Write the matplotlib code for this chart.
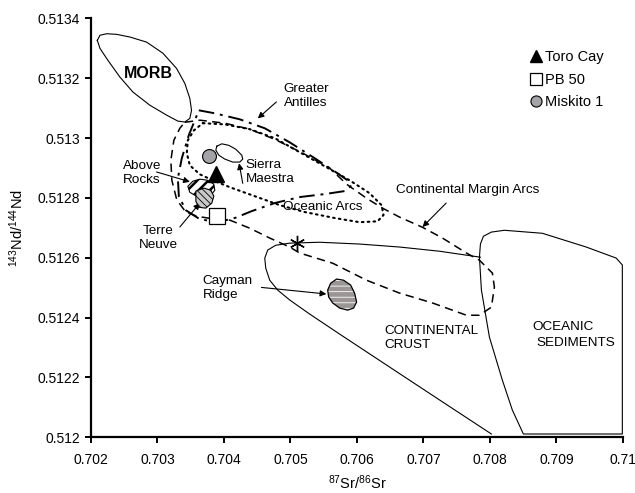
import matplotlib
matplotlib.use("Agg")
import matplotlib.pyplot as plt
from matplotlib.patches import Polygon
from matplotlib.lines import Line2D

plt.rcParams['font.family'] = ['Liberation Sans', 'DejaVu Sans']
plt.rcParams['mathtext.default'] = 'regular'

# ---------------- data (87Sr/86Sr, 143Nd/144Nd) ----------------
morb_sr = [0.702095, 0.702135, 0.702236, 0.702386, 0.702586, 0.702836, 0.703081, 0.703287,
           0.703411, 0.703486, 0.703512, 0.703486, 0.703411, 0.703306, 0.703137, 0.702886,
           0.702631, 0.702435, 0.702255, 0.702135]
morb_nd = [0.513327, 0.513344, 0.513349, 0.513347, 0.513338, 0.513321, 0.513284, 0.513233,
           0.513183, 0.513133, 0.513093, 0.513066, 0.513054, 0.513057, 0.513077, 0.51311,
           0.513154, 0.513204, 0.51326, 0.5133]

ga_sr = [0.703622, 0.703862, 0.704237, 0.704613, 0.704988, 0.705363, 0.705664, 0.705859,
         0.705904, 0.705814, 0.705514, 0.705138, 0.704763, 0.704417, 0.704162, 0.703907,
         0.703637, 0.703426, 0.703321, 0.703306, 0.703366, 0.703471]
ga_nd = [0.513093, 0.513083, 0.513063, 0.513033, 0.512986, 0.512933, 0.512889, 0.512859,
         0.512839, 0.512823, 0.512813, 0.512803, 0.512783, 0.512756, 0.512733, 0.512719,
         0.512729, 0.512759, 0.512806, 0.512866, 0.512933, 0.51301]

cma_sr = [0.703411, 0.703637, 0.704012, 0.704387, 0.704763, 0.705183, 0.705589, 0.705844,
          0.706144, 0.706384, 0.70664, 0.706985, 0.707285, 0.707646, 0.707841, 0.708036,
          0.708066, 0.708021, 0.707841, 0.707646, 0.707135, 0.70664, 0.706144, 0.705634,
          0.705138, 0.704988, 0.704688, 0.704387, 0.704087, 0.703862, 0.703592, 0.703426,
          0.703291, 0.703216, 0.703201, 0.703246, 0.703336]
cma_nd = [0.513053, 0.51306, 0.51305, 0.51303, 0.512996, 0.51295, 0.5129, 0.512846,
          0.512799, 0.512766, 0.512736, 0.512702, 0.512666, 0.512616, 0.512592, 0.512549,
          0.512502, 0.512435, 0.512408, 0.512408, 0.512449, 0.512482, 0.512525, 0.512582,
          0.512616, 0.512636, 0.512666, 0.512699, 0.512726, 0.512729, 0.512739, 0.512753,
          0.512793, 0.512859, 0.512926, 0.512993, 0.513033]

oa_sr = [0.703682, 0.704012, 0.704387, 0.704763, 0.705138, 0.705514, 0.705889, 0.706189,
         0.706369, 0.706399, 0.706309, 0.706039, 0.705664, 0.705213, 0.704838, 0.704462,
         0.704087, 0.703832, 0.703637, 0.703486, 0.703441, 0.703456, 0.703547]
oa_nd = [0.51305, 0.513046, 0.51303, 0.513, 0.512953, 0.512906, 0.512859, 0.512816,
         0.512776, 0.512743, 0.512722, 0.512719, 0.512733, 0.512753, 0.512776, 0.512806,
         0.512836, 0.512859, 0.512879, 0.512909, 0.51295, 0.512993, 0.513026]

sm_sr = [0.703892, 0.703967, 0.704072, 0.704177, 0.704267, 0.704282, 0.704237, 0.704132,
         0.704012, 0.703922, 0.703877]
sm_nd = [0.512973, 0.512981, 0.512976, 0.512963, 0.512943, 0.51293, 0.51292, 0.51292,
         0.51293, 0.512943, 0.51296]

ar_sr = [0.703456, 0.703532, 0.703637, 0.703757, 0.703847, 0.703862, 0.703802, 0.703682,
         0.703562, 0.703486]
ar_nd = [0.512839, 0.512856, 0.512863, 0.512859, 0.512846, 0.512826, 0.512809, 0.512806,
         0.512809, 0.512819]

tn_sr = [0.703577, 0.703697, 0.703802, 0.703847, 0.703817, 0.703727, 0.703622, 0.703577]
tn_nd = [0.512823, 0.512833, 0.512826, 0.512806, 0.512783, 0.512766, 0.512769, 0.512789]

cr_sr = [0.705604, 0.705694, 0.705799, 0.705904, 0.705964, 0.705994, 0.705949, 0.705859,
         0.705739, 0.705634, 0.705574, 0.705559]
cr_nd = [0.512515, 0.512529, 0.512525, 0.512509, 0.512482, 0.512452, 0.512432, 0.512425,
         0.512432, 0.512449, 0.512469, 0.512492]

cc_sr = [0.708021, 0.70724, 0.706489, 0.705739, 0.705288, 0.704988, 0.704808, 0.704688,
         0.704628, 0.704613, 0.704658, 0.704778, 0.704988, 0.705438, 0.706039, 0.70664,
         0.70724, 0.707856]
cc_nd = [0.512011, 0.512125, 0.512235, 0.512345, 0.512412, 0.512459, 0.512492, 0.512525,
         0.512565, 0.512599, 0.512626, 0.512642, 0.512649, 0.512652, 0.512646, 0.512636,
         0.512622, 0.512602]

os_sr = [0.707841, 0.707856, 0.707901, 0.708021, 0.708216, 0.708787, 0.709447, 0.709898,
         0.70999, 0.70999, 0.708502, 0.708336, 0.708186, 0.707991, 0.707871]
os_nd = [0.512602, 0.512646, 0.512672, 0.512686, 0.512692, 0.512682, 0.512636, 0.512599,
         0.512576, 0.512011, 0.512011, 0.512091, 0.512191, 0.512335, 0.512492]

toro_cay = (0.70388, 0.51288)
pb50 = (0.70389, 0.51274)
miskito1 = (0.70378, 0.51294)
star_pt = (0.70510, 0.51265)

x_ticks = [0.702, 0.703, 0.704, 0.705, 0.706, 0.707, 0.708, 0.709, 0.710]
x_labels = ['0.702', '0.703', '0.704', '0.705', '0.706', '0.707', '0.708', '0.709', '0.71']
y_ticks = [0.5120, 0.5122, 0.5124, 0.5126, 0.5128, 0.5130, 0.5132, 0.5134]
y_labels = ['0.512', '0.5122', '0.5124', '0.5126', '0.5128', '0.513', '0.5132', '0.5134']

# ---------------- figure ----------------
fig = plt.figure(figsize=(6.35, 4.93), dpi=100)
ax = fig.add_axes([0.1433, 0.1130, 0.8378, 0.8495])
ax.set_xlim(0.702, 0.710)
ax.set_ylim(0.5120, 0.5134)

def closed(xs, ys):
    return list(xs) + [xs[0]], list(ys) + [ys[0]]

thin = dict(color='black', lw=0.8)
ax.plot(*closed(morb_sr, morb_nd), **thin)
ax.plot(*closed(sm_sr, sm_nd), **thin)
ax.plot(cc_sr, cc_nd, **thin)
ax.plot(*closed(os_sr, os_nd), **thin)

ax.plot(*closed(ga_sr, ga_nd), color='black', lw=1.4, ls=(0, (8, 3, 1.5, 3)))
ax.plot(*closed(cma_sr, cma_nd), color='black', lw=1.1, ls=(0, (5.5, 3.5)))
ax.plot(*closed(oa_sr, oa_nd), color='black', lw=1.5, ls=(0, (0.8, 2.0)),
        dash_capstyle='round')

# hatched fields
plt.rcParams['hatch.linewidth'] = 1.8
ax.add_patch(Polygon(list(zip(ar_sr, ar_nd)), closed=True, facecolor='white',
                     edgecolor='black', hatch='///', lw=0.8, zorder=3))
plt.rcParams['hatch.linewidth'] = 0.6
ax.add_patch(Polygon(list(zip(tn_sr, tn_nd)), closed=True, facecolor='#c9c9c9',
                     edgecolor='black', hatch='\\\\\\\\\\', lw=0.8, zorder=3.1))
ax.add_patch(Polygon(list(zip(cr_sr, cr_nd)), closed=True, facecolor='#9b9595',
                     edgecolor='white', hatch='---', lw=0, zorder=3))
ax.add_patch(Polygon(list(zip(cr_sr, cr_nd)), closed=True, facecolor='none',
                     edgecolor='black', lw=0.9, zorder=3.2))

# samples
ax.plot(*miskito1, ls='none', marker='o', markersize=10, markerfacecolor='#a4a4a8',
        markeredgecolor='black', markeredgewidth=0.8, zorder=5)
ax.plot(*toro_cay, ls='none', marker='^', markersize=11, color='black', zorder=5)
ax.plot(*pb50, ls='none', marker='s', markersize=12, markerfacecolor='white',
        markeredgecolor='black', markeredgewidth=0.9, zorder=5)
ax.plot(*star_pt, ls='none', marker=(6, 2, 0), markersize=11, color='black',
        markeredgewidth=1.0, zorder=5)

# labels
fs = 9.7
ax.text(0.702856, 0.513217, 'MORB', fontsize=11.5, fontweight='bold', ha='center', va='center')
ax.text(0.704898, 0.513142, 'Greater\nAntilles', fontsize=fs, ha='left', va='center')
ax.text(0.704327, 0.512888, 'Sierra\nMaestra', fontsize=fs, ha='left', va='center')
ax.text(0.70248, 0.512884, 'Above\nRocks', fontsize=fs, ha='left', va='center')
ax.text(0.703006, 0.512667, 'Terre\nNeuve', fontsize=fs, ha='center', va='center')
ax.text(0.704883, 0.512769, 'Oceanic Arcs', fontsize=fs, ha='left', va='center')
ax.text(0.70659, 0.512826, 'Continental Margin Arcs', fontsize=fs, ha='left', va='center')
ax.text(0.703682, 0.5125, 'Cayman\nRidge', fontsize=fs, ha='left', va='center')
ax.text(0.706414, 0.512332, 'CONTINENTAL\nCRUST', fontsize=fs, ha='left', va='center')
ax.text(0.708637, 0.512369, 'OCEANIC', fontsize=fs, ha='left', va='center')
ax.text(0.708697, 0.512315, 'SEDIMENTS', fontsize=fs, ha='left', va='center')

arrow = dict(arrowstyle='-|>', color='black', lw=0.8, mutation_scale=9, shrinkA=0, shrinkB=0)
ax.annotate('', xy=(0.704508, 0.513066), xytext=(0.704788, 0.513121), arrowprops=arrow)
ax.annotate('', xy=(0.704227, 0.512916), xytext=(0.704282, 0.512849), arrowprops=arrow)
ax.annotate('', xy=(0.703487, 0.512854), xytext=(0.702986, 0.512887), arrowprops=arrow)
ax.annotate('', xy=(0.703637, 0.512783), xytext=(0.703336, 0.512703), arrowprops=arrow)
ax.annotate('', xy=(0.706985, 0.512703), xytext=(0.707341, 0.512783), arrowprops=arrow)
ax.annotate('', xy=(0.705539, 0.512479), xytext=(0.704563, 0.512501), arrowprops=arrow)

# axes styling
for s in ['top', 'right']:
    ax.spines[s].set_visible(False)
for s in ['left', 'bottom']:
    ax.spines[s].set_linewidth(1.6)
ax.set_xticks(x_ticks)
ax.set_xticklabels(x_labels)
ax.set_yticks(y_ticks)
ax.set_yticklabels(y_labels)
ax.tick_params(direction='out', length=4, width=1.4, labelsize=10)
ax.tick_params(axis='x', pad=7)
ax.tick_params(axis='y', pad=4)
ax.set_xlabel('$^{87}$Sr/$^{86}$Sr', fontsize=10.5, labelpad=5)
ax.set_ylabel('$^{143}$Nd/$^{144}$Nd', fontsize=10.5, labelpad=8)

handles = [
    Line2D([], [], ls='none', marker='^', color='black', markersize=8),
    Line2D([], [], ls='none', marker='s', markerfacecolor='white', markeredgecolor='black',
           markersize=8, markeredgewidth=0.9),
    Line2D([], [], ls='none', marker='o', markerfacecolor='#a4a4a8', markeredgecolor='black',
           markersize=8, markeredgewidth=0.8),
]
ax.legend(handles, ['Toro Cay', 'PB 50', 'Miskito 1'], loc='upper left',
          bbox_to_anchor=(0.825, 0.925), frameon=False, borderpad=0, fontsize=10.5,
          handlelength=0.9, handletextpad=0.15, labelspacing=0.6, borderaxespad=0)

fig.savefig('out.png', dpi=100)
